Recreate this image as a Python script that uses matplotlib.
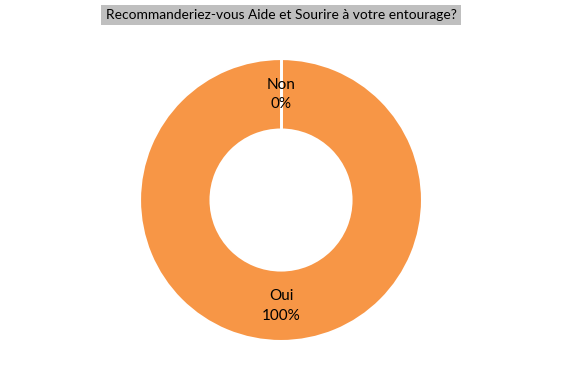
import numpy as np
import matplotlib.pyplot as plt

# données du graphique
categories = ['Non', 'Oui']
pourcentages = [0, 100]
couleurs = ['#F79646', '#F79646']
titre = 'Recommanderiez-vous Aide et Sourire à votre entourage?'

plt.rcParams['font.family'] = ['Lato', 'DejaVu Sans']

fig = plt.figure(figsize=(5.68, 3.72), dpi=100)
ax = fig.add_axes([0.2465, 0.0833, 0.4965, 0.758])

labels = [f'{c}\n{p}%' for c, p in zip(categories, pourcentages)]
wedges, texts = ax.pie(
    pourcentages,
    labels=labels,
    colors=couleurs,
    startangle=90,
    counterclock=False,
    labeldistance=0.75,
    radius=1.0,
    wedgeprops=dict(width=0.5, edgecolor='white', linewidth=1.5),
    textprops=dict(fontsize=11, color='black', linespacing=1.5),
)
for t in texts:
    t.set_ha('center')
    t.set_va('center')

# séparateur blanc aux limites des parts (la part à 0% n'est pas dessinée)
for w in wedges:
    a = np.deg2rad(w.theta1)
    r_out, r_in = w.r, w.r - w.width
    ax.plot([r_in * np.cos(a), r_out * np.cos(a)],
            [r_in * np.sin(a), r_out * np.sin(a)],
            color='white', linewidth=2, solid_capstyle='butt')

ax.set_xlim(-1, 1)
ax.set_ylim(-1, 1)
ax.set_aspect('equal')
ax.axis('off')

fig.text(281 / 568, (372 - 15) / 372, titre, ha='center', va='center',
         fontsize=9.9, color='black',
         bbox=dict(boxstyle='square,pad=0.3', facecolor='#BFBFBF', edgecolor='none'))

fig.savefig('out.png', dpi=100)
